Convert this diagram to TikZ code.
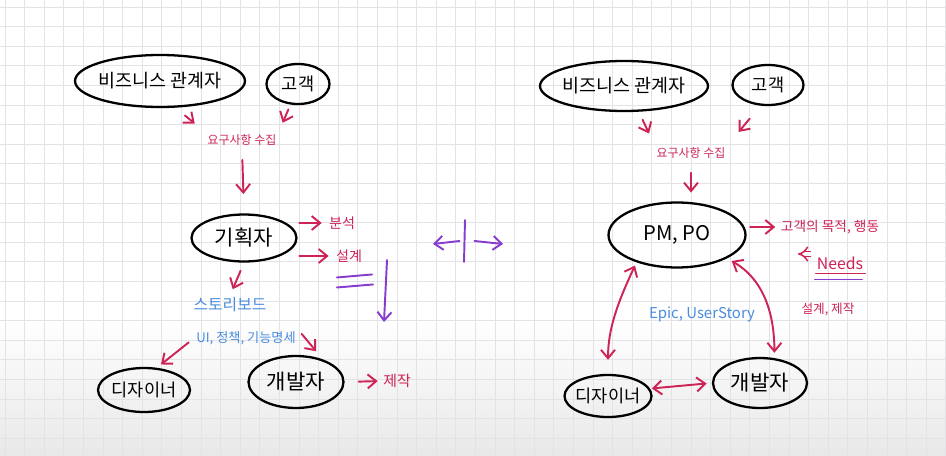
\documentclass[tikz,border=0pt]{standalone}
\usepackage{fontspec}
\newfontfamily\krfont{Noto Sans CJK KR}
\usetikzlibrary{shapes.geometric, arrows.meta, positioning, calc}
\definecolor{penred}{RGB}{205,35,85}
\definecolor{penblue}{RGB}{72,140,222}
\definecolor{penpurple}{RGB}{135,60,205}
\definecolor{gridgray}{RGB}{226,226,231}

\begin{document}
\begin{tikzpicture}[
    x=0.02cm, y=-0.02cm,
    every node/.style={font=\krfont},
    >={Straight Barb[length=1.7mm, width=2.8mm]},
    bubble/.style={ellipse, draw, line width=1.3pt, inner xsep=-0.12cm, inner ysep=0pt, font=\krfont\fontsize{10.5}{12}\selectfont},
    memo/.style={text=penred, inner sep=1pt, font=\krfont\fontsize{8}{9}\selectfont},
    story/.style={text=penblue, inner sep=1pt, font=\krfont\fontsize{9}{10}\selectfont},
    redline/.style={penred, line width=1.1pt, line cap=round},
    purpleline/.style={penpurple, line width=1.1pt, line cap=round},
    gridline/.style={gridgray, line width=0.5pt}
]
\useasboundingbox (0,0) rectangle (946,456);
\shade[top color=white, bottom color=black!9] (0,320) rectangle (946,456);
\foreach \i in {0,...,48} {
    \draw[gridline] (5+19.6*\i,0) -- (5+19.6*\i,456);
}
\foreach \i in {0,...,23} {
    \draw[gridline] (0,7+19.6*\i) -- (946,7+19.6*\i);
}

\node[bubble, minimum width=3.4cm, minimum height=1.04cm] (bizL) at (160,81) {비즈니스 관계자};
\node[bubble, minimum width=1.26cm, minimum height=0.8cm, font=\krfont\fontsize{10}{12}\selectfont] (custL) at (298,84) {고객};
\node[memo, font=\krfont\fontsize{6.8}{8}\selectfont] (reqL) at (242,140) {요구사항 수집};
\node[bubble, minimum width=2.1cm, minimum height=0.94cm, font=\krfont\fontsize{12}{14}\selectfont] (planL) at (244,238) {기획자};
\node[memo] (analL) at (342,223) {분석};
\node[memo] (desgL) at (349,256) {설계};
\node[story] (board) at (230,305) {스토리보드};
\node[story, font=\krfont\fontsize{7.5}{9}\selectfont] (spec) at (246,338) {UI, 정책, 기능명세};
\node[bubble, minimum width=1.84cm, minimum height=0.88cm, font=\krfont\fontsize{10}{12}\selectfont] (desnL) at (144,390) {디자이너};
\node[bubble, minimum width=1.9cm, minimum height=1.04cm, font=\krfont\fontsize{12}{14}\selectfont] (devL) at (296,382) {개발자};
\node[memo, font=\krfont\fontsize{8.5}{10}\selectfont] (makeL) at (397,381) {제작};

\draw[redline, ->, shorten <=7pt, shorten >=8pt] (bizL.-60) -- (reqL.north west);
\draw[redline, ->, shorten <=3pt, shorten >=6pt] (custL.-110) -- (reqL.north east);
\draw[redline, ->, shorten <=7pt, shorten >=11pt] (reqL.south) -- (planL.north);
\draw[redline, ->, shorten <=1pt, shorten >=3pt] (planL.east |- analL) -- (analL.west);
\draw[redline, ->, shorten <=1pt, shorten >=3pt] (planL.east |- desgL) -- (desgL.west);
\draw[redline, ->, shorten <=5pt, shorten >=4pt] (planL.south) -- (board.north);
\draw[redline, ->, shorten <=4pt, shorten >=3pt] (spec.west) -- (desnL.60);
\draw[redline, ->, shorten <=3.5pt, shorten >=6pt] (spec.north east) -- (devL.40);
\draw[redline, ->, shorten <=8pt, shorten >=2pt] (devL.east) -- (makeL.west);

\draw[purpleline] ($(desgL.south west)+(3,13)$) -- ($(desgL.south east)+(8,10)$)
                  ($(desgL.south west)+(3,23)$) -- ($(desgL.south east)+(9,20)$);
\coordinate (flowtop) at (387,260);
\coordinate (flowend) at (384,322);
\draw[purpleline, ->] (flowtop) -- (flowend);

\coordinate (midtop) at (465,220);
\coordinate (midbot) at (464,262);
\coordinate (midleft) at (433,244);
\coordinate (midright) at (503,244);
\draw[purpleline] (midtop) -- (midbot);
\draw[purpleline, ->] ($(midtop)!0.5!(midbot)+(-5,0)$) -- (midleft);
\draw[purpleline, ->] ($(midtop)!0.5!(midbot)+(10,0)$) -- (midright);

\node[bubble, minimum width=3.36cm, minimum height=1.0cm] (bizR) at (624,86) {비즈니스 관계자};
\node[bubble, minimum width=1.42cm, minimum height=0.8cm, font=\krfont\fontsize{10}{12}\selectfont] (custR) at (768,85) {고객};
\node[memo, font=\krfont\fontsize{6.8}{8}\selectfont] (reqR) at (691,153) {요구사항 수집};
\node[bubble, minimum width=2.74cm, minimum height=1.3cm, font=\krfont\fontsize{11.5}{14}\selectfont] (pm) at (677,235) {PM, PO};
\node[memo, font=\krfont\fontsize{7.8}{9}\selectfont] (goal) at (830,227) {고객의 목적, 행동};
\node[memo, font=\krfont\fontsize{9}{10}\selectfont] (needs) at (840,263) {Needs};
\node[memo, font=\krfont\fontsize{7.2}{9}\selectfont] (makeR) at (828,309) {설계, 제작};
\node[story, font=\krfont\fontsize{8.5}{10}\selectfont] (epic) at (702,314) {Epic, UserStory};
\node[bubble, minimum width=1.74cm, minimum height=0.84cm, font=\krfont\fontsize{10}{12}\selectfont] (desnR) at (608,396) {디자이너};
\node[bubble, minimum width=1.88cm, minimum height=1.0cm, font=\krfont\fontsize{12}{14}\selectfont] (devR) at (760,383) {개발자};

\draw[redline, ->, shorten <=5pt, shorten >=7.5pt] (bizR.-60) -- (reqR.north west);
\draw[redline, ->, shorten <=9.5pt, shorten >=10pt] (custR.-110) -- (reqR.north east);
\draw[redline, ->, shorten <=7pt, shorten >=5pt] (reqR.south) -- (reqR.south |- pm.north);
\draw[redline, ->, shorten <=2pt, shorten >=2pt] (pm.east |- goal) -- (goal.west);
\coordinate (needtip) at (798,254);
\draw[penred, line width=0.9pt, double distance=2pt, -{Implies}, shorten <=2pt] (needs.west |- needtip) -- (needtip);
\draw[redline] ($(needs.south west)+(1,2)$) -- ($(needs.south east)+(0,2)$);
\draw[purpleline] ($(needs.south west)+(0,8)$) -- ($(needs.south east)+(-3,8)$);
\draw[redline, <->, shorten <=2pt, shorten >=8pt] (pm.214) to[out=-115, in=90] (desnR.north);
\draw[redline, <->, shorten <=3pt, shorten >=3pt] (pm.-25) to[out=-30, in=90] (devR.60);
\draw[redline, <->, shorten <=1pt, shorten >=3pt] (desnR.10) -- (devR.west);

\end{tikzpicture}
\end{document}
